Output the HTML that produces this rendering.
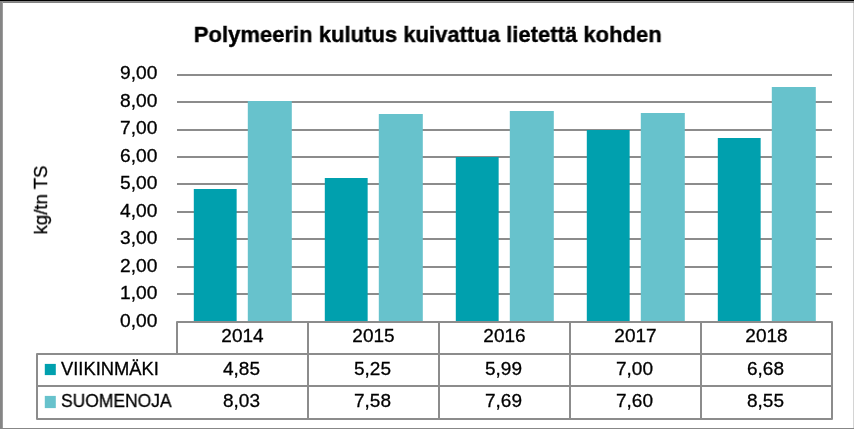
<!DOCTYPE html>
<html><head><meta charset="utf-8"><style>
html,body{margin:0;padding:0;background:#fff;}
body{width:854px;height:429px;position:relative;overflow:hidden;font-family:"Liberation Sans",sans-serif;color:#000;}
.yl,.c,.leg,.axt{-webkit-text-stroke:0.3px #000;}
.title span{-webkit-text-stroke:0.4px #000;}
svg{position:absolute;left:0;top:0;}
.t{will-change:transform;}
.title{position:absolute;left:0px;top:20.7px;width:856px;text-align:center;font-weight:bold;font-size:22.5px;line-height:28px;white-space:nowrap;}
.title span{display:inline-block;transform:scaleX(0.98);transform-origin:center;will-change:transform;}
.yl{will-change:transform;position:absolute;right:696.5px;text-align:right;font-size:19.2px;line-height:22px;}
.c{will-change:transform;position:absolute;width:131px;text-align:center;font-size:19px;line-height:22px;}
.leg{will-change:transform;position:absolute;left:61px;font-size:18px;line-height:22px;white-space:nowrap;transform-origin:left center;}
.axt{will-change:transform;position:absolute;left:40.5px;top:199.7px;font-size:18.6px;line-height:22px;white-space:nowrap;transform:translate(-50%,-50%) rotate(-90deg);}
</style></head><body>
<svg width="854" height="429" viewBox="0 0 854 429">
<rect x="177" y="74" width="655" height="2" fill="#8c8c8c"/>
<rect x="177" y="101" width="655" height="2" fill="#8c8c8c"/>
<rect x="177" y="129" width="655" height="2" fill="#8c8c8c"/>
<rect x="177" y="156" width="655" height="2" fill="#8c8c8c"/>
<rect x="177" y="183" width="655" height="2" fill="#8c8c8c"/>
<rect x="177" y="211" width="655" height="2" fill="#8c8c8c"/>
<rect x="177" y="238" width="655" height="2" fill="#8c8c8c"/>
<rect x="177" y="266" width="655" height="2" fill="#8c8c8c"/>
<rect x="177" y="293" width="655" height="2" fill="#8c8c8c"/>
<rect x="193.80" y="189.00" width="42.85" height="132.00" fill="#00A0AE"/>
<rect x="247.80" y="101.00" width="44.0" height="220.00" fill="#67C2CC"/>
<rect x="324.80" y="178.00" width="42.85" height="143.00" fill="#00A0AE"/>
<rect x="378.80" y="114.00" width="44.0" height="207.00" fill="#67C2CC"/>
<rect x="455.80" y="157.00" width="42.85" height="164.00" fill="#00A0AE"/>
<rect x="509.80" y="111.00" width="44.0" height="210.00" fill="#67C2CC"/>
<rect x="586.80" y="130.00" width="42.85" height="191.00" fill="#00A0AE"/>
<rect x="640.80" y="113.00" width="44.0" height="208.00" fill="#67C2CC"/>
<rect x="717.80" y="138.00" width="42.85" height="183.00" fill="#00A0AE"/>
<rect x="771.80" y="87.00" width="44.0" height="234.00" fill="#67C2CC"/>
<path d="M177 322 H832 V419 H37 V354 H177 Z" fill="none" stroke="#8c8c8c" stroke-width="2" stroke-linejoin="round"/>
<path d="M37 386 H832 M177 354 H832 M308 322 V419 M439 322 V419 M570 322 V419 M701 322 V419" fill="none" stroke="#8c8c8c" stroke-width="2"/>
<rect x="44.8" y="363.9" width="11" height="11.2" fill="#00A0AE"/>
<rect x="44.8" y="395.9" width="11" height="12.2" fill="#67C2CC"/>
<rect x="0" y="1" width="854" height="1" fill="#8a8a8a"/>
<rect x="0" y="2" width="854" height="1" fill="#828282"/>
<rect x="0" y="0" width="2" height="429" fill="#858585"/>
<rect x="2" y="2" width="1" height="427" fill="#9c9c9c"/>
<rect x="0" y="0" width="854" height="1" fill="#000"/>
<rect x="0" y="428" width="854" height="1" fill="#878787"/>
<rect x="853" y="3" width="1" height="425" fill="#d4d4d4"/>
</svg>
<div class="title"><span>Polymeerin kulutus kuivattua lietettä kohden</span></div>
<div class="axt">kg/tn TS</div>
<div class="yl" style="top:62.20px">9,00</div>
<div class="yl" style="top:89.70px">8,00</div>
<div class="yl" style="top:117.20px">7,00</div>
<div class="yl" style="top:144.70px">6,00</div>
<div class="yl" style="top:172.20px">5,00</div>
<div class="yl" style="top:199.70px">4,00</div>
<div class="yl" style="top:227.20px">3,00</div>
<div class="yl" style="top:254.70px">2,00</div>
<div class="yl" style="top:282.20px">1,00</div>
<div class="yl" style="top:309.70px">0,00</div>
<div class="c" style="left:177px;top:324.5px">2014</div>
<div class="c" style="left:176px;top:357.5px">4,85</div>
<div class="c" style="left:176px;top:389.5px">8,03</div>
<div class="c" style="left:308px;top:324.5px">2015</div>
<div class="c" style="left:307px;top:357.5px">5,25</div>
<div class="c" style="left:307px;top:389.5px">7,58</div>
<div class="c" style="left:439px;top:324.5px">2016</div>
<div class="c" style="left:438px;top:357.5px">5,99</div>
<div class="c" style="left:438px;top:389.5px">7,69</div>
<div class="c" style="left:570px;top:324.5px">2017</div>
<div class="c" style="left:569px;top:357.5px">7,00</div>
<div class="c" style="left:569px;top:389.5px">7,60</div>
<div class="c" style="left:701px;top:324.5px">2018</div>
<div class="c" style="left:700px;top:357.5px">6,68</div>
<div class="c" style="left:700px;top:389.5px">8,55</div>
<div class="leg" style="top:357.5px;transform:scaleX(1.02)">VIIKINMÄKI</div>
<div class="leg" style="top:389.5px;transform:scaleX(0.97)">SUOMENOJA</div>
</body></html>
